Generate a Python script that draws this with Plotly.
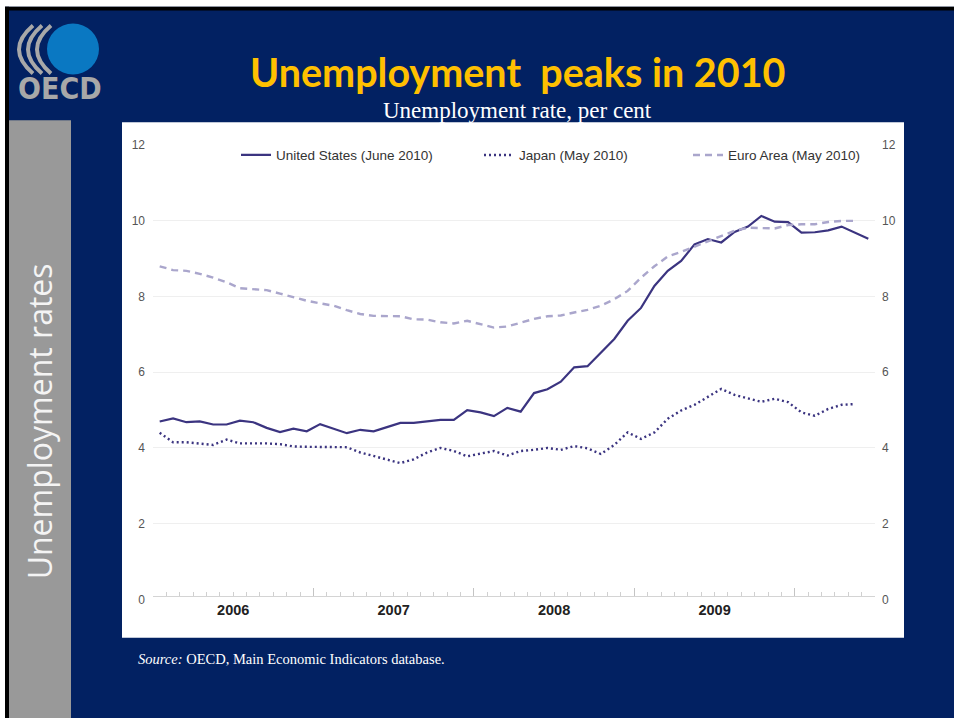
import plotly.graph_objects as go

# ---------------- data (monthly, Jan 2006 onward) ----------------
years = ["2006", "2007", "2008", "2009"]
series_names = ["United States (June 2010)", "Japan (May 2010)", "Euro Area (May 2010)"]

us = [4.70, 4.78, 4.68, 4.70, 4.62, 4.62, 4.72, 4.68, 4.53, 4.42, 4.51, 4.44,
      4.63, 4.51, 4.39, 4.48, 4.44, 4.55, 4.66, 4.66, 4.70, 4.74, 4.74, 5.00,
      4.94, 4.84, 5.06, 4.96, 5.45, 5.55, 5.75, 6.13, 6.16, 6.53, 6.88, 7.36,
      7.70, 8.28, 8.68, 8.94, 9.38, 9.52, 9.43, 9.71, 9.85, 10.13, 9.98, 9.97,
      9.69, 9.70, 9.75, 9.85, 9.69, 9.53]

japan = [4.40, 4.15, 4.15, 4.12, 4.08, 4.22, 4.12, 4.12, 4.12, 4.10, 4.04, 4.03,
         4.03, 4.03, 4.02, 3.88, 3.78, 3.68, 3.60, 3.70, 3.88, 4.00, 3.92, 3.78,
         3.84, 3.92, 3.80, 3.92, 3.95, 4.00, 3.95, 4.05, 3.99, 3.84, 4.08, 4.41,
         4.24, 4.41, 4.77, 4.99, 5.14, 5.34, 5.56, 5.40, 5.31, 5.22, 5.30, 5.21,
         4.94, 4.85, 5.03, 5.14, 5.16]

euro = [8.80, 8.70, 8.68, 8.60, 8.50, 8.38, 8.22, 8.20, 8.17, 8.08, 7.98, 7.89,
        7.82, 7.76, 7.64, 7.54, 7.49, 7.49, 7.48, 7.40, 7.39, 7.32, 7.29, 7.36,
        7.27, 7.18, 7.21, 7.32, 7.41, 7.48, 7.50, 7.58, 7.65, 7.76, 7.93, 8.15,
        8.50, 8.80, 9.06, 9.18, 9.32, 9.47, 9.60, 9.74, 9.82, 9.80, 9.80, 9.89,
        9.91, 9.91, 9.97, 10.00, 10.00]

y_ticks = [0, 2, 4, 6, 8, 10, 12]
n_months_axis = 54  # Jan 2006 .. Jun 2010 inclusive


def months(n):
    # mid-month positions, months counted from Jan 2006
    return [i + 0.5 for i in range(n)]


# ---------------- geometry helpers (figure pixels -> paper) ----------------
W, H = 954, 718
V_SCALE, V_OFF = 0.9835, 5.37   # empirical correction for the capture


def PX(x):
    return x / W


def PY(y):
    yd = (y - V_OFF) / V_SCALE
    return 1 - yd / H


NAVY = "#022162"
LINE_DARK = "#3b3480"
LINE_LIGHT = "#aaa6cc"
SANS = "Liberation Sans, Arial, sans-serif"
LEG_FONT = dict(family=SANS, size=13.5, color="#333333")

fig = go.Figure()

fig.add_trace(go.Scatter(
    x=months(len(us)), y=us, name=series_names[0], mode="lines",
    line=dict(color=LINE_DARK, width=2.2), legend="legend", showlegend=True,
    xaxis="x", yaxis="y"))
fig.add_trace(go.Scatter(
    x=months(len(japan)), y=japan, name=series_names[1], mode="lines",
    line=dict(color=LINE_DARK, width=2.4, dash="2px,3px"), legend="legend2",
    showlegend=True, xaxis="x", yaxis="y2"))
fig.add_trace(go.Scatter(
    x=months(len(euro)), y=euro, name=series_names[2], mode="lines",
    line=dict(color=LINE_LIGHT, width=2.4, dash="7px,5px"), legend="legend3",
    showlegend=True, xaxis="x2", yaxis="y"))

x_dom = [PX(153), PX(875)]
y_dom = [PY(599.5), PY(144)]

fig.update_layout(
    width=W, height=H,
    margin=dict(l=0, r=0, t=0, b=0),
    paper_bgcolor=NAVY,
    plot_bgcolor="rgba(0,0,0,0)",
    showlegend=True,
    font=dict(family=SANS, color="#333333", size=12),
    xaxis=dict(
        domain=x_dom, range=[0, n_months_axis], anchor="free", position=PY(596),
        tickvals=[0, 12, 24, 36, 48, 54], ticks="inside", ticklen=8,
        tickcolor="#c4c4c4", tickwidth=1, showticklabels=False,
        showgrid=False, zeroline=False, showline=True, linecolor="#d4d4d4",
        linewidth=1,
        minor=dict(dtick=1, tick0=0, ticks="inside", ticklen=4,
                   tickcolor="#d0d0d0", showgrid=False),
        fixedrange=True),
    xaxis2=dict(
        overlaying="x", anchor="y", side="bottom", range=[0, n_months_axis],
        tickvals=[6 + 12 * k for k in range(len(years))], ticktext=years,
        ticks="", showline=False, showgrid=False, zeroline=False,
        tickfont=dict(family=SANS, size=14.5, color="#222222", weight="bold"),
        fixedrange=True),
    yaxis=dict(
        domain=y_dom, range=[0, 12], anchor="x", side="left",
        tickvals=y_ticks, ticks="", showgrid=True, gridcolor="#efefef",
        gridwidth=1, zeroline=False, showline=False, ticklabelstandoff=7,
        tickfont=dict(family=SANS, size=12, color="#555555"),
        fixedrange=True),
    yaxis2=dict(
        overlaying="y", anchor="x", side="right", range=[0, 12],
        tickvals=y_ticks, ticks="", showgrid=False, zeroline=False,
        showline=False, ticklabelstandoff=6,
        tickfont=dict(family=SANS, size=12, color="#555555"),
        fixedrange=True),
    legend=dict(x=PX(236), y=PY(154), xanchor="left", yanchor="middle",
                bgcolor="rgba(0,0,0,0)", font=LEG_FONT),
    legend2=dict(x=PX(479), y=PY(154), xanchor="left", yanchor="middle",
                 bgcolor="rgba(0,0,0,0)", font=LEG_FONT),
    legend3=dict(x=PX(688), y=PY(154), xanchor="left", yanchor="middle",
                 bgcolor="rgba(0,0,0,0)", font=LEG_FONT),
)

shapes = []


def rect(x0, y0, x1, y1, color):
    shapes.append(dict(type="rect", xref="paper", yref="paper",
                       x0=PX(x0), x1=PX(x1), y0=PY(y1), y1=PY(y0),
                       fillcolor=color, line=dict(width=0), layer="below"))


# slide frame
rect(0, -20, W, 5, "white")
rect(0, -20, 5, H + 30, "white")
rect(5, 5, W, 9, "black")
rect(5, 5, 9, H + 30, "black")
# grey side bar
rect(9, 119, 71, H + 30, "#999999")
# white chart panel
rect(122, 121, 904, 638, "white")

# OECD logo: blue disc + grey arcs
shapes.append(dict(type="circle", xref="paper", yref="paper",
                   x0=PX(47), x1=PX(99), y0=PY(73), y1=PY(22),
                   fillcolor="#0a78c2", line=dict(width=0), layer="below"))
for xe, xl in [(33, 19), (42, 28), (51, 37)]:
    cx = 2 * xl - xe
    path = "M {:.5f},{:.5f} Q {:.5f},{:.5f} {:.5f},{:.5f}".format(
        PX(xe), PY(24), PX(cx), PY(48), PX(xe), PY(72))
    shapes.append(dict(type="path", xref="paper", yref="paper", path=path,
                       line=dict(color="#a8a8a8", width=4), layer="below"))

fig.update_layout(shapes=shapes)

annotations = [
    dict(text="Unemployment\u00a0 peaks in 2010", x=PX(517), y=PY(70),
         font=dict(family="Lato, Open Sans, sans-serif", size=39.5, color="#FFC000", weight="bold")),
    dict(text="Unemployment rate, per cent", x=PX(517), y=PY(109),
         font=dict(family="Liberation Serif, Times New Roman, serif", size=23, color="white")),
    dict(text="Unemployment rates", x=PX(39), y=PY(421), textangle=-90,
         font=dict(family="Open Sans, Lato, sans-serif", size=32, color="#f4f4f4")),
    dict(text="<i>Source:</i> OECD, Main Economic Indicators database.",
         x=PX(136), y=PY(659), xanchor="left",
         font=dict(family="Liberation Serif, Times New Roman, serif", size=14.5, color="white")),
    dict(text="OECD", x=PX(60), y=PY(87),
         font=dict(family="Liberation Sans Narrow, DejaVu Sans Condensed, sans-serif",
                   size=30, color="#a8a8a8", weight="bold")),
]
for a in annotations:
    a.setdefault("xref", "paper")
    a.setdefault("yref", "paper")
    a.setdefault("showarrow", False)
    a.setdefault("xanchor", "center")
    a.setdefault("yanchor", "middle")
fig.update_layout(annotations=annotations)

fig.write_html("out.html")
